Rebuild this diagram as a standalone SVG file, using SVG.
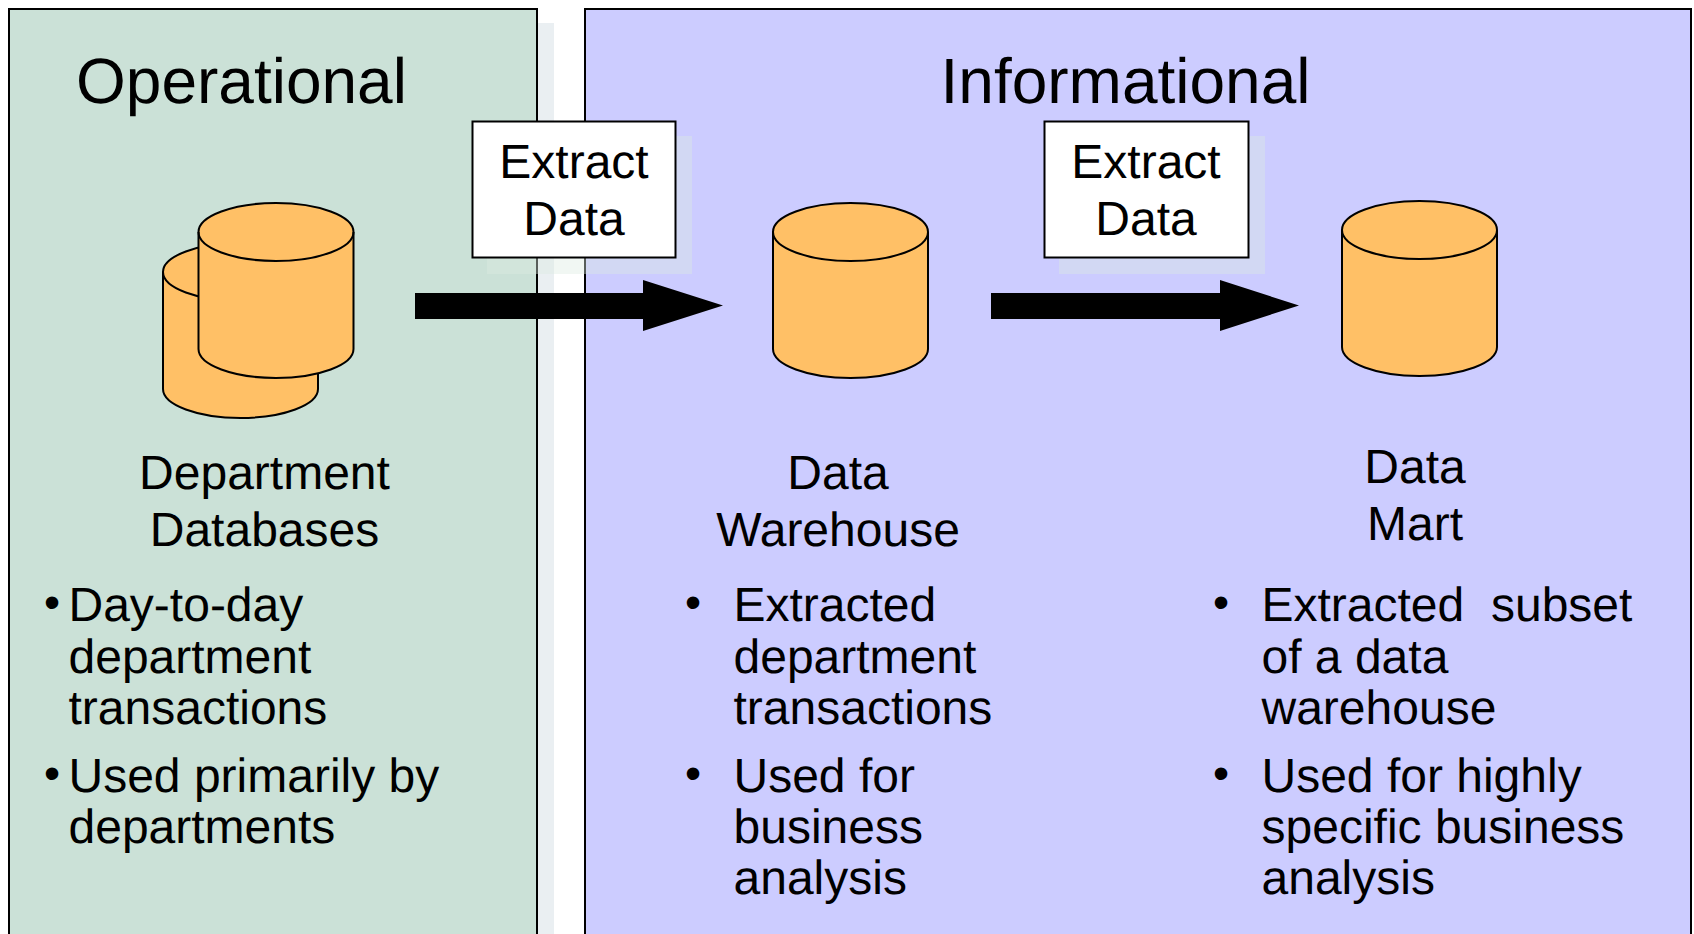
<svg xmlns="http://www.w3.org/2000/svg" width="1694" height="934" viewBox="0 0 1694 934">
<defs>
<style>
text{font-family:"Liberation Sans",Arial,sans-serif;font-size:48px;fill:#000;text-rendering:geometricPrecision}
.title{font-size:64px}
.mid{text-anchor:middle}
.bul{font-size:46px}
.panel{stroke:#000;stroke-width:2}
.cyl{fill:#FFC066;stroke:#000;stroke-width:2}
.rim{fill:none;stroke:#000;stroke-width:2}
.box{fill:#fff;stroke:#000;stroke-width:2}
.shadow{fill:#DDEAE0;fill-opacity:.4}
</style>
<g id="cyl"><path class="cyl" d="M0 29V146C0 162 35 175 77.500 175S155 162 155 146V29C155 13 120 0 77.500 0S0 13 0 29Z"/><path class="rim" d="M0 29C0 45 35 58 77.500 58S155 45 155 29"/></g>
</defs>
<rect width="1694" height="934" fill="#fff"/>
<rect x="537" y="23" width="17" height="911" fill="#EAEFF2"/>
<g id="panel-operational">
<rect class="panel" x="9" y="9" width="528" height="935" fill="#CBE1D7"/>
<text class="title" x="76" y="103">Operational</text>
</g>
<g id="panel-informational">
<rect class="panel" x="585" y="9" width="1106" height="935" fill="#CCCCFF"/>
<text class="title mid" x="1125.500" y="103">Informational</text>
</g>
<g id="department-databases">
<use href="#cyl" x="163" y="243"/>
<use href="#cyl" x="198.500" y="203"/>
<text class="mid" x="264.500" y="489">Department</text>
<text class="mid" x="264.500" y="546">Databases</text>
<text class="bul" x="44" y="618">•</text><text x="68.500" y="621">Day-to-day</text>
<text x="68.500" y="673">department</text>
<text x="68.500" y="724">transactions</text>
<text class="bul" x="44" y="789">•</text><text x="68.500" y="792">Used primarily by</text>
<text x="68.500" y="843">departments</text>
</g>
<g id="data-warehouse">
<use href="#cyl" x="773" y="203"/>
<text class="mid" x="838" y="489">Data</text>
<text class="mid" x="838" y="546">Warehouse</text>
<text class="bul" x="685" y="618">•</text><text x="733.500" y="621">Extracted</text>
<text x="733.500" y="673">department</text>
<text x="733.500" y="724">transactions</text>
<text class="bul" x="685" y="789">•</text><text x="733.500" y="792">Used for</text>
<text x="733.500" y="843">business</text>
<text x="733.500" y="894">analysis</text>
</g>
<g id="data-mart">
<use href="#cyl" x="1342" y="201"/>
<text class="mid" x="1415" y="483">Data</text>
<text class="mid" x="1415" y="540">Mart</text>
<text class="bul" x="1213" y="618">•</text><text x="1261.500" y="621" xml:space="preserve">Extracted  subset</text>
<text x="1261.500" y="673">of a data</text>
<text x="1261.500" y="724">warehouse</text>
<text class="bul" x="1213" y="789">•</text><text x="1261.500" y="792">Used for highly</text>
<text x="1261.500" y="843">specific business</text>
<text x="1261.500" y="894">analysis</text>
</g>
<g id="connectors">
<path d="M415 293H643V280L723 305.500L643 331V319H415Z" fill="#000"/>
<path d="M991 293H1220V280L1299 305.500L1220 331V319H991Z" fill="#000"/>
</g>
<g id="extract-data-1">
<rect class="shadow" x="487" y="136" width="205" height="138"/>
<rect class="box" x="472.500" y="121.500" width="203" height="136"/>
<text class="mid" x="574" y="177.500">Extract</text>
<text class="mid" x="574" y="235">Data</text>
</g>
<g id="extract-data-2">
<rect class="shadow" x="1059" y="136" width="206" height="138"/>
<rect class="box" x="1044.500" y="121.500" width="204" height="136"/>
<text class="mid" x="1146" y="177.500">Extract</text>
<text class="mid" x="1146" y="235">Data</text>
</g>
</svg>
